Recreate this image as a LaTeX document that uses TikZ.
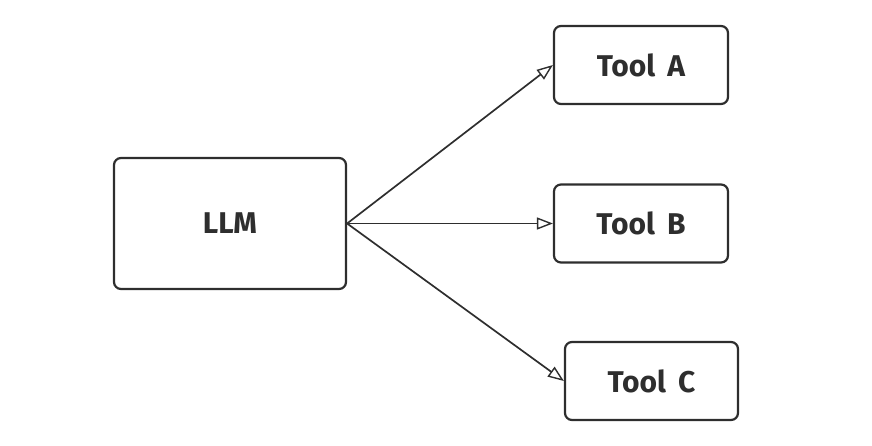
\documentclass[tikz,border=0pt]{standalone}
\usepackage{fontspec}
\setmainfont{Fira Sans}
\usetikzlibrary{arrows.meta}
\definecolor{ink}{HTML}{2E2E2E}
\tikzset{>={Triangle[open,length=16pt,width=12pt,line width=1.4pt]}}
\tikzset{box/.style={draw=ink,line width=2.2pt,rounded corners=7pt,align=center,
  text=ink,font=\bfseries\fontsize{30}{34}\selectfont,inner sep=0pt}}

\begin{document}
\begin{tikzpicture}[x=1pt,y=-1pt]
  \useasboundingbox (0,0) rectangle (872,446);
  \node[box,minimum width=232pt,minimum height=131pt] (llm) at (230,223.5) {LLM};
  \node[box,minimum width=174pt,minimum height=78pt] (ta) at (641,65) {Tool\, A};
  \node[box,minimum width=174pt,minimum height=78pt] (tb) at (641,223.5) {Tool\, B};
  \node[box,minimum width=173pt,minimum height=78pt] (tc) at (651.5,381) {Tool\, C};
  \coordinate (out) at (llm.east);
  % arrows to the tools
  \draw[->,ink,line width=1.7pt] (out) -- (ta.west);
  \draw[->,ink,line width=1.7pt] (out) -- (tb.west);
  \draw[->,ink,line width=1.7pt] (out) -- (tc.west);
\end{tikzpicture}
\end{document}
